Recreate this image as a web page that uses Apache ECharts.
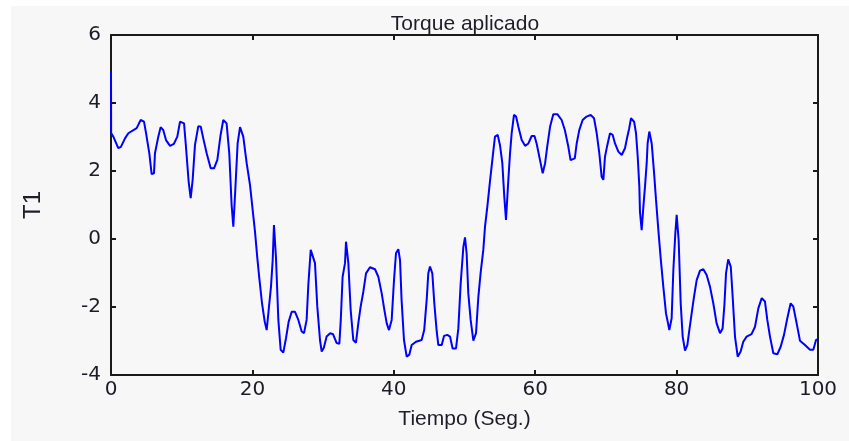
<!DOCTYPE html>
<html><head><meta charset="utf-8">
<script src="https://cdn.jsdelivr.net/npm/echarts@6/dist/echarts.min.js"></script>
<style>html,body{margin:0;padding:0;background:#fff}#c{width:849px;height:441px}</style>
</head><body><div id="c"></div>
<script>
const title = "Torque aplicado";
const xName = "Tiempo (Seg.)";
const yName = "T1";
const xTicks = [0, 20, 40, 60, 80, 100];
const yTicks = [-4, -2, 0, 2, 4, 6];
const time = [0,0.02,0.33,1.03,1.4,1.98,2.45,3.63,4.2,4.67,4.95,5.42,5.75,6.08,6.22,6.69,7.02,7.4,7.78,8.35,8.9,9.38,9.76,10.33,10.6,10.98,11.27,11.55,11.88,12.35,12.7,13.05,13.53,14.1,14.57,15.04,15.5,15.88,16.35,16.73,17.06,17.3,17.58,17.91,18.25,18.71,19.19,19.66,20.04,20.37,20.7,20.98,21.36,21.74,22.02,22.3,22.63,22.87,23.05,23.34,23.67,24.0,24.37,24.75,25.13,25.56,26.03,26.5,26.97,27.3,27.67,27.91,28.25,28.53,28.85,29.18,29.56,29.8,30.1,30.5,31.0,31.4,31.92,32.3,32.5,32.76,33.1,33.24,33.57,33.9,34.27,34.65,34.98,35.31,35.69,36.07,36.63,37.34,37.81,38.29,38.67,39.0,39.32,39.7,40.03,40.31,40.64,40.88,41.1,41.44,41.82,42.2,42.53,43.14,43.94,44.3,44.65,44.88,45.12,45.45,45.73,46.07,46.3,46.78,47.1,47.57,47.95,48.32,48.8,49.13,49.46,49.84,50.07,50.3,50.54,50.87,51.25,51.63,51.96,52.3,52.66,52.9,53.23,53.6,53.99,54.31,54.7,55.02,55.35,55.63,55.87,56.2,56.44,56.67,57.0,57.3,57.62,58.09,58.57,59.04,59.5,59.9,60.2,60.68,61.06,61.4,61.7,62.1,62.56,63.13,63.74,64.2,64.68,65.0,65.6,65.87,66.24,66.71,67.27,67.85,68.32,68.7,69.07,69.4,69.64,69.87,70.2,70.58,70.96,71.29,71.76,72.24,72.7,73.03,73.3,73.55,73.99,74.26,74.5,74.73,74.82,75.06,75.3,75.53,75.77,75.9,76.14,76.48,76.8,77.09,77.42,77.75,78.12,78.5,78.74,78.97,79.3,79.54,79.82,80.01,80.29,80.58,80.86,81.19,81.52,81.8,82.13,82.46,82.84,83.31,83.78,84.25,84.72,85.19,85.66,86.14,86.51,86.76,86.99,87.3,87.66,87.93,88.26,88.64,89.06,89.43,89.9,90.6,91.09,91.56,92.04,92.5,92.83,93.21,93.68,94.25,94.72,95.19,95.66,96.13,96.51,96.98,97.45,98.16,98.87,99.34,99.72,100];
const torque = [4.92,3.12,3.01,2.67,2.71,2.96,3.11,3.26,3.5,3.45,3.12,2.52,1.91,1.93,2.52,3.01,3.29,3.2,2.91,2.74,2.8,3.01,3.45,3.4,2.72,1.69,1.2,1.74,2.77,3.32,3.3,2.96,2.52,2.08,2.08,2.33,3.06,3.5,3.4,2.52,1.0,0.36,1.44,2.81,3.29,3.01,2.23,1.59,0.85,0.21,-0.57,-1.16,-1.89,-2.43,-2.68,-2.09,-1.4,-0.62,0.41,-0.57,-2.38,-3.26,-3.34,-2.92,-2.43,-2.14,-2.14,-2.38,-2.72,-2.77,-2.38,-1.35,-0.32,-0.37,-0.71,-1.99,-2.97,-3.31,-3.2,-2.87,-2.77,-2.8,-3.06,-3.08,-2.38,-1.11,-0.71,-0.08,-0.71,-2.09,-2.97,-3.05,-2.48,-1.99,-1.55,-1.01,-0.83,-0.89,-1.11,-1.6,-2.09,-2.48,-2.68,-2.38,-1.21,-0.42,-0.3,-0.62,-1.79,-2.97,-3.46,-3.4,-3.12,-3.02,-2.97,-2.68,-1.79,-1.01,-0.81,-1.01,-1.89,-2.72,-3.12,-3.12,-2.85,-2.82,-2.87,-3.22,-3.22,-2.63,-1.3,-0.23,0.05,-0.42,-1.6,-2.38,-2.99,-2.77,-1.7,-0.96,-0.32,0.36,0.95,1.69,2.42,3.01,3.06,2.76,2.23,1.24,0.56,1.74,2.52,3.11,3.65,3.6,3.3,2.91,2.74,2.81,3.03,3.03,2.81,2.32,1.93,2.23,2.72,3.3,3.67,3.67,3.5,3.2,2.72,2.32,2.37,2.81,3.21,3.5,3.6,3.65,3.55,3.11,2.52,1.83,1.74,2.42,2.76,3.11,3.06,2.81,2.57,2.47,2.67,3.01,3.26,3.55,3.45,3.11,2.42,1.54,0.8,0.26,0.95,1.54,2.23,2.81,3.16,2.81,1.98,1.15,0.26,-0.57,-1.4,-2.19,-2.43,-2.68,-2.33,-0.91,0.17,0.71,-0.03,-1.89,-2.87,-3.28,-3.12,-2.68,-2.19,-1.7,-1.21,-0.93,-0.89,-1.06,-1.4,-1.89,-2.48,-2.77,-2.63,-1.94,-1.01,-0.6,-0.81,-1.7,-2.87,-3.46,-3.31,-3.02,-2.87,-2.8,-2.58,-2.04,-1.74,-1.84,-2.38,-2.87,-3.36,-3.39,-3.17,-2.82,-2.33,-1.89,-1.99,-2.48,-2.99,-3.12,-3.26,-3.26,-2.97,-2.95];

const series = time.map((t, i) => [t, torque[i]]);
const chart = echarts.init(document.getElementById('c'), null, {renderer: 'canvas'});
const font = "'Liberation Sans', Arial, sans-serif";
const tickFont = "'DejaVu Sans', sans-serif";
const lineStyle = {color: '#1a1a1a', width: 2};
const axisLine = {show: true, onZero: false, lineStyle: lineStyle};
const axisTick = {show: true, inside: true, length: 5, lineStyle: lineStyle};
chart.setOption({
  backgroundColor: '#ffffff',
  animation: false,
  graphic: [{type: 'rect', z: -10, shape: {x: 11, y: 6, width: 849, height: 441}, style: {fill: '#f7f7f7'}}],
  title: {text: title, left: 460, top: 9, textAlign: 'center', textStyle: {fontFamily: font, fontSize: 21, fontWeight: 'normal', color: '#1e1e2a'}},
  grid: {left: 111, top: 35, right: 31, bottom: 66},
  xAxis: [{
    type: 'value', min: xTicks[0], max: xTicks[xTicks.length - 1], interval: 20,
    name: xName, nameLocation: 'middle', nameGap: 34,
    nameTextStyle: {fontFamily: font, fontSize: 21, color: '#1e1e2a'},
    axisLine: axisLine, axisTick: axisTick,
    axisLabel: {fontFamily: tickFont, fontSize: 20, color: '#1c1c28', margin: 5},
    splitLine: {show: false}
  }, {
    type: 'value', position: 'top', min: xTicks[0], max: xTicks[xTicks.length - 1], interval: 20,
    axisLine: axisLine, axisTick: axisTick,
    axisLabel: {show: false}, splitLine: {show: false}
  }],
  yAxis: [{
    type: 'value', min: yTicks[0], max: yTicks[yTicks.length - 1], interval: 2,
    name: yName, nameLocation: 'middle', nameGap: 66, nameRotate: 90,
    nameTextStyle: {fontFamily: font, fontSize: 24, color: '#1e1e2a'},
    axisLine: axisLine, axisTick: axisTick,
    axisLabel: {fontFamily: tickFont, fontSize: 20, color: '#1c1c28', margin: 10},
    splitLine: {show: false}
  }, {
    type: 'value', position: 'right', min: yTicks[0], max: yTicks[yTicks.length - 1], interval: 2,
    axisLine: axisLine, axisTick: axisTick,
    axisLabel: {show: false}, splitLine: {show: false}
  }],
  series: [{
    type: 'line', data: series, xAxisIndex: 0, yAxisIndex: 0,
    showSymbol: false, symbol: 'none',
    lineStyle: {color: '#0000ff', width: 2}
  }]
});
</script></body></html>
